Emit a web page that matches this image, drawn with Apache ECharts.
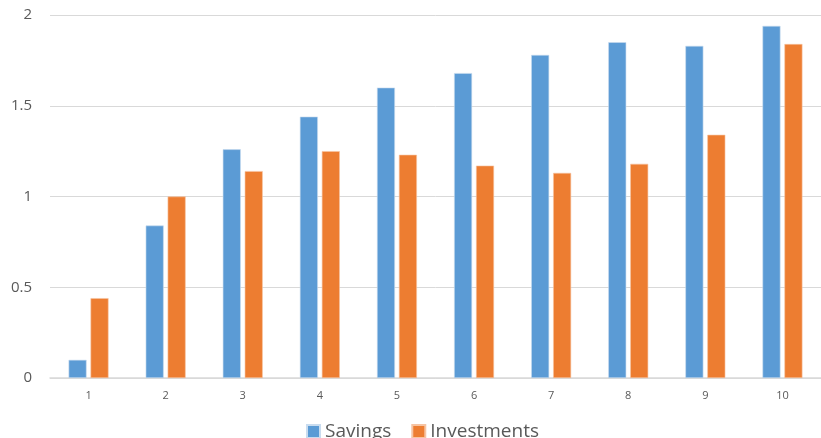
<!DOCTYPE html>
<html>
<head>
<meta charset="utf-8">
<script src="https://cdn.jsdelivr.net/npm/echarts@6/dist/echarts.min.js"></script>
<style>
  html, body { margin: 0; padding: 0; background: #fff; }
  #chart { width: 821px; height: 438px; }
</style>
</head>
<body>
<div id="chart"></div>
<script>
// Periods on the x axis
const categories = ['1', '2', '3', '4', '5', '6', '7', '8', '9', '10'];
// Series values per period
const savings = [0.10, 0.84, 1.26, 1.44, 1.60, 1.68, 1.78, 1.85, 1.83, 1.94];
const investments = [0.44, 1.00, 1.14, 1.25, 1.23, 1.17, 1.13, 1.18, 1.34, 1.84];

const font = '"Open Sans", "Liberation Sans", sans-serif';
const textColor = '#595959';
const gridColor = '#d9d9d9';

const chart = echarts.init(document.getElementById('chart'), null, { renderer: 'canvas' });
chart.setOption({
  animation: false,
  backgroundColor: '#ffffff',
  grid: { left: 50, top: 15, width: 775, height: 363, containLabel: false },
  legend: {
    left: 301,
    top: 417,
    itemWidth: 13,
    itemHeight: 13,
    itemGap: 20,
    icon: 'rect',
    textStyle: { color: textColor, fontSize: 19, fontFamily: font },
    data: ['Savings', 'Investments']
  },
  xAxis: {
    type: 'category',
    data: categories,
    axisLine: { lineStyle: { color: gridColor, width: 1.5 } },
    axisTick: { show: false },
    axisLabel: { color: textColor, fontSize: 11, fontFamily: font, margin: 12 },
    splitLine: { show: false }
  },
  yAxis: {
    type: 'value',
    min: 0,
    max: 2,
    interval: 0.5,
    axisLine: { show: false },
    axisTick: { show: false },
    axisLabel: { color: textColor, fontSize: 15, fontFamily: font, margin: 18 },
    splitLine: { lineStyle: { color: gridColor, width: 1 } }
  },
  series: [
    {
      name: 'Savings',
      type: 'bar',
      data: savings,
      barWidth: 18,
      barGap: '22%',
      itemStyle: { color: '#5B9BD5', borderColor: '#c9dcef', borderWidth: 0.6 }
    },
    {
      name: 'Investments',
      type: 'bar',
      data: investments,
      barWidth: 18,
      barGap: '22%',
      itemStyle: { color: '#ED7D31', borderColor: '#f6c4a3', borderWidth: 0.6 }
    }
  ]
});
</script>
</body>
</html>
